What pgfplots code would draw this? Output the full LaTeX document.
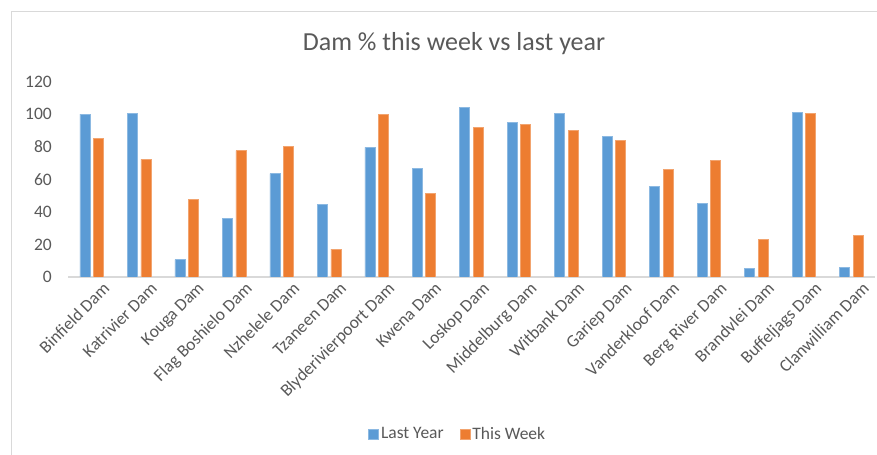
\documentclass[border=0pt]{standalone}
\usepackage{pgfplots}
\pgfplotsset{compat=1.18}
\usepackage{fontspec}
\setmainfont{Carlito}
\definecolor{txt}{HTML}{595959}
\definecolor{lyblue}{HTML}{5B9BD5}
\definecolor{tworange}{HTML}{ED7D31}
\definecolor{axgray}{HTML}{D9D9D9}
\begin{document}
\begin{tikzpicture}
\useasboundingbox (0,0) rectangle (877bp,455bp);
\fill[white] (0,0) rectangle (877bp,455bp);
\draw[axgray, line width=1bp] (11bp,-5bp) -- (11bp,443bp) -- (890bp,443bp);
\node[anchor=base, text=txt, font=\fontsize{26bp}{31bp}\selectfont] at (454bp,404bp) {Dam \% this week vs last year};
\begin{axis}[
  at={(68bp,178bp)}, anchor=south west,
  scale only axis, width=807bp, height=195.3bp,
  xmin=-0.5, xmax=16.5, ymin=0, ymax=120,
  ybar=3.5bp, bar width=10bp,
  axis x line*=bottom, axis y line*=left,
  y axis line style={draw=none},
  x axis line style={axgray, line width=1.5bp},
  major tick length=0,
  ytick={0,20,...,120},
  xtick={0,...,16},
  xticklabels={Binfield Dam,Katrivier Dam,Kouga Dam,Flag Boshielo Dam,Nzhelele Dam,Tzaneen Dam,Blyderivierpoort Dam,Kwena Dam,Loskop Dam,Middelburg Dam,Witbank Dam,Gariep Dam,Vanderkloof Dam,Berg River Dam,Brandvlei Dam,Buffeljags Dam,Clanwilliam Dam},
  /pgf/number format/assume math mode=true,
  ticklabel style={text=txt, font=\fontsize{17.5bp}{20bp}\selectfont},
  yticklabel style={anchor=east, inner sep=0pt, xshift=-16bp},
  xticklabel style={rotate=45, anchor=north east, inner sep=0pt, xshift=4.5bp, yshift=-10bp},
  legend columns=2,
  legend style={at={(0.483,-0.804)}, anchor=center, draw=none, fill=none,
    font=\fontsize{17.5bp}{20bp}\selectfont, text=txt,
    nodes={inner sep=2bp},
    /tikz/every even column/.append style={column sep=14bp}},
  legend image code/.code={\fill[#1] (0bp,-5bp) rectangle (10bp,5bp);},
]
\addplot[fill=lyblue, draw=lyblue!70!white, line width=0.6bp] coordinates {
(0,100) (1,100.3) (2,10.6) (3,36.2) (4,63.5) (5,44.8) (6,79.6) (7,66.8) (8,104.4)
(9,95.0) (10,100.5) (11,86.2) (12,55.9) (13,45.0) (14,5.3) (15,100.9) (16,5.7)};
\addplot[fill=tworange, draw=tworange!70!white, line width=0.6bp] coordinates {
(0,85.2) (1,72.3) (2,47.9) (3,77.6) (4,80.1) (5,17.2) (6,100.1) (7,51.4) (8,91.9)
(9,94.0) (10,90.3) (11,83.7) (12,66.1) (13,71.7) (14,23.1) (15,100.5) (16,25.4)};
\legend{Last Year, This Week}
\end{axis}
\end{tikzpicture}
\end{document}
